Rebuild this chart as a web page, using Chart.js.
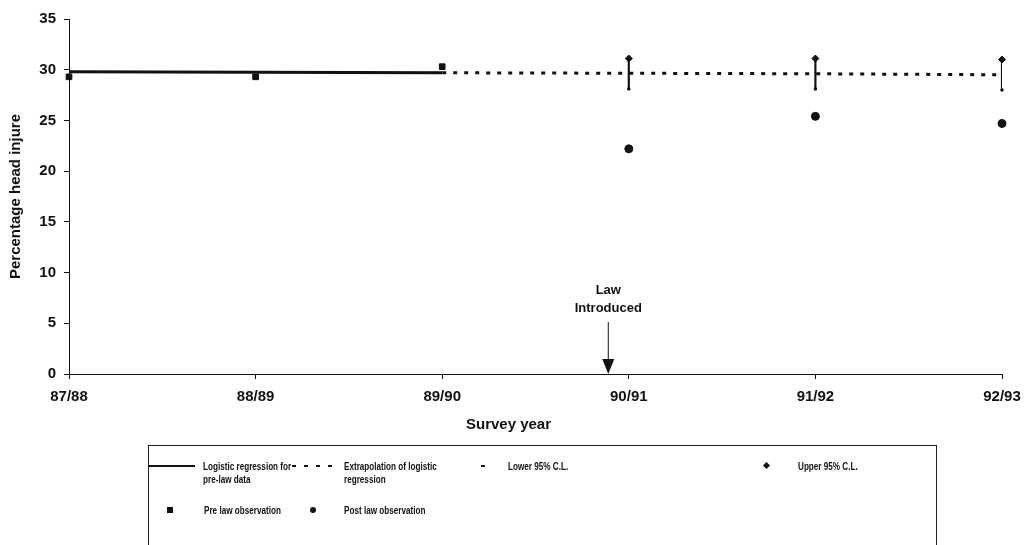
<!DOCTYPE html>
<html>
<head>
<meta charset="utf-8">
<script src="https://cdn.jsdelivr.net/npm/chart.js@4.4.0/dist/chart.umd.min.js"></script>
<style>
  body { margin: 0; background: #fff; }
  #wrap { position: relative; width: 1024px; height: 545px; overflow: hidden; }
  #legend { position: absolute; left: 148px; top: 445px; width: 789px; height: 120px;
            border: 1px solid #222; border-bottom: none; box-sizing: border-box;
            font-family: "Liberation Sans", Arial, sans-serif;
            font-size: 11px; font-weight: bold; color: #111; line-height: 13px; }
  .it { position: absolute; transform: scaleX(0.74); transform-origin: left top; white-space: nowrap; }
  .mk { position: absolute; background: #111; }
</style>
</head>
<body>
<div id="wrap">
  <canvas id="grafico" width="1024" height="545"></canvas>
  <div id="legend">
    <div class="mk" style="left:0px;top:19px;width:46px;height:2px"></div>
    <div class="it" style="left:54px;top:14px">Logistic regression for<br>pre-law data</div>
    <div class="mk" style="left:143px;top:19px;width:46px;height:2px;background:repeating-linear-gradient(90deg,#111 0 4px,transparent 4px 12px)"></div>
    <div class="it" style="left:195px;top:14px">Extrapolation of logistic<br>regression</div>
    <div class="mk" style="left:332px;top:19px;width:4px;height:2px"></div>
    <div class="it" style="left:359px;top:14px">Lower 95% C.L.</div>
    <div class="mk" style="left:615px;top:17px;width:5px;height:5px;transform:rotate(45deg)"></div>
    <div class="it" style="left:649px;top:14px">Upper 95% C.L.</div>
    <div class="mk" style="left:18px;top:61px;width:6px;height:6px"></div>
    <div class="it" style="left:55px;top:58px">Pre law observation</div>
    <div class="mk" style="left:161px;top:61px;width:6px;height:6px;border-radius:50%"></div>
    <div class="it" style="left:195px;top:58px">Post law observation</div>
  </div>
</div>
<script>
const surveyYears = ['87/88', '88/89', '89/90', '90/91', '91/92', '92/93'];
const regressionPreLaw = [29.8, 29.75, 29.7, null, null, null];
const extrapolation = [null, null, 29.7, 29.65, 29.6, 29.5];
const preLawObs = [29.3, 29.3, 30.3, null, null, null];
const postLawObs = [null, null, null, 22.2, 25.4, 24.7];
const lowerCL = [null, null, null, 28.1, 28.1, 28.0];
const upperCL = [null, null, null, 31.1, 31.1, 31.0];
const yTicks = [0, 5, 10, 15, 20, 25, 30, 35];
const lawIntroducedAt = 2.89; // position on the category axis
const lawText = ['Law', 'Introduced'];
const xTitle = 'Survey year';

const ciBars = lowerCL.map((lo, i) => lo === null ? null : [lo, upperCL[i]]);

const fontFam = '"Liberation Sans", Arial, sans-serif';

const annotations = {
  id: 'annotations',
  afterDatasetsDraw(chart) {
    const c = chart.ctx;
    const x = chart.scales.x.getPixelForValue(lawIntroducedAt);
    const yb = chart.scales.y.getPixelForValue(0);
    c.save();
    c.fillStyle = '#111';
    c.strokeStyle = '#111';
    c.font = 'bold 13px ' + fontFam;
    c.textAlign = 'center';
    c.textBaseline = 'middle';
    c.fillText(lawText[0], x, yb - 84);
    c.fillText(lawText[1], x, yb - 66);
    c.lineWidth = 1;
    c.beginPath();
    c.moveTo(x, yb - 52);
    c.lineTo(x, yb - 14);
    c.stroke();
    c.beginPath();
    c.moveTo(x - 6, yb - 15);
    c.lineTo(x + 6, yb - 15);
    c.lineTo(x, yb);
    c.closePath();
    c.fill();
    // axis title, set a little left of the axis centre as in the original
    const a = chart.chartArea;
    c.font = 'bold 15px ' + fontFam;
    c.fillText(xTitle, (a.left + a.right) / 2 - 27, a.bottom + 51);
    c.restore();
  }
};

const tickFont = { family: fontFam, size: 15, weight: 'bold' };

new Chart(document.getElementById('grafico').getContext('2d'), {
  data: {
    labels: surveyYears,
    datasets: [
      { type: 'bar', label: 'CI', data: ciBars, backgroundColor: '#111', barThickness: 1.5, order: 5 },
      { type: 'line', label: 'Logistic regression for pre-law data', data: regressionPreLaw,
        borderColor: '#111', borderWidth: 3, pointRadius: 0, order: 2 },
      { type: 'line', label: 'Extrapolation of logistic regression', data: extrapolation,
        borderColor: '#111', borderWidth: 3, borderDash: [4, 7], pointRadius: 0, order: 3 },
      { type: 'line', label: 'Pre law observation', data: preLawObs, showLine: false,
        pointStyle: 'rect', pointRadius: 4, backgroundColor: '#111', borderColor: '#111', order: 1 },
      { type: 'line', label: 'Post law observation', data: postLawObs, showLine: false,
        pointStyle: 'circle', pointRadius: 4, backgroundColor: '#111', borderColor: '#111', order: 1 },
      { type: 'line', label: 'Lower 95% C.L.', data: lowerCL, showLine: false,
        pointStyle: 'rect', pointRadius: 1.5, backgroundColor: '#111', borderColor: '#111', order: 1 },
      { type: 'line', label: 'Upper 95% C.L.', data: upperCL, showLine: false,
        pointStyle: 'rectRot', pointRadius: 3.5, backgroundColor: '#111', borderColor: '#111', order: 1 }
    ]
  },
  options: {
    responsive: false,
    animation: false,
    layout: { padding: { left: 0, top: 19, right: 22, bottom: 105 } },
    plugins: { legend: { display: false }, tooltip: { enabled: false } },
    scales: {
      x: {
        type: 'category',
        offset: false,
        afterFit: s => { s.height = 66; s.paddingLeft = 0; s.paddingRight = 0; },
        grid: { offset: false, drawOnChartArea: false, drawTicks: true, tickLength: 5, color: '#111' },
        border: { color: '#111', width: 1 },
        ticks: { color: '#111', font: tickFont, padding: 9, maxRotation: 0 }
      },
      y: {
        min: 0, max: 35,
        afterFit: s => { s.width = 69; },
        afterBuildTicks: s => { s.ticks = yTicks.map(v => ({ value: v })); },
        grid: { drawOnChartArea: false, drawTicks: true, tickLength: 5, color: '#111' },
        border: { color: '#111', width: 1 },
        ticks: { color: '#111', font: tickFont, padding: 8 },
        title: { display: true, text: 'Percentage head injure', color: '#111', font: tickFont, padding: { top: 7, bottom: 4 } }
      }
    }
  },
  plugins: [annotations]
});
</script>
</body>
</html>
